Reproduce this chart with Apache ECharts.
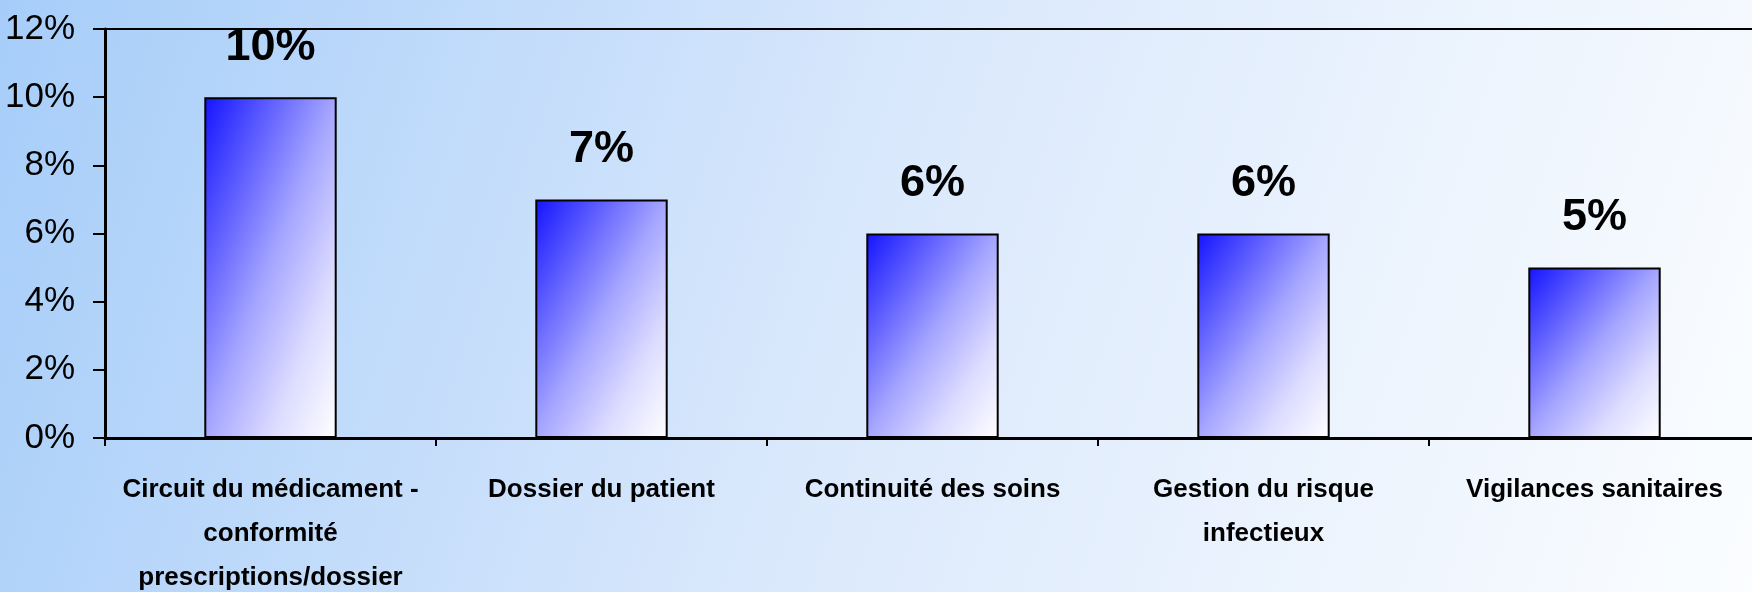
<!DOCTYPE html>
<html>
<head>
<meta charset="utf-8">
<script src="https://cdn.jsdelivr.net/npm/echarts@6/dist/echarts.min.js"></script>
<style>
  html, body { margin: 0; padding: 0; }
  #chart { width: 1752px; height: 592px; }
</style>
</head>
<body>
<div id="chart"></div>
<script>
const categories = [
  "Circuit du médicament -\nconformité\nprescriptions/dossier",
  "Dossier du patient",
  "Continuité des soins",
  "Gestion du risque\ninfectieux",
  "Vigilances sanitaires"
];
const values = [10, 7, 6, 6, 5];
const yTicks = { min: 0, max: 12, step: 2 };

const font = '"Liberation Sans", Arial, sans-serif';
const BAR_RATIO = 0.4;

// Excel-like diagonal fill: top-right and bottom-left corners share the same tint,
// whatever the bar's aspect ratio (w/h)
function barFill(r) {
  const k = 1 + r * r;
  return new echarts.graphic.LinearGradient(0, 0, 2 / k, (2 * r * r) / k, [
    { offset: 0, color: "#1414ff" },
    { offset: 0.5, color: "#a6a6ff" },
    { offset: 0.75, color: "#dcdcff" },
    { offset: 1, color: "#ffffff" }
  ]);
}

const chart = echarts.init(document.getElementById("chart"));
const option = {
  animation: false,
  backgroundColor: new echarts.graphic.LinearGradient(0, 0, 1, 1, [
    { offset: 0, color: "#a6cdf9" },
    { offset: 0.5, color: "#dbe9fc" },
    { offset: 1, color: "#fbfdff" }
  ]),
  grid: {
    left: 105,
    top: 29,
    bottom: 154,
    width: 1655,
    outerBoundsMode: "none",
    containLabel: false,
    show: true,
    borderColor: "#000",
    borderWidth: 2,
    backgroundColor: "transparent"
  },
  xAxis: {
    type: "category",
    data: categories,
    axisLine: { lineStyle: { color: "#000", width: 3 } },
    axisTick: { show: true, length: 8, lineStyle: { color: "#000", width: 2 } },
    axisLabel: {
      interval: 0,
      margin: 30,
      color: "#000",
      fontFamily: font,
      fontWeight: "bold",
      fontSize: 26,
      lineHeight: 44
    }
  },
  yAxis: {
    type: "value",
    min: yTicks.min,
    max: yTicks.max,
    interval: yTicks.step,
    splitLine: { show: false },
    axisLine: { show: true, lineStyle: { color: "#000", width: 3 } },
    axisTick: { show: true, length: 12, lineStyle: { color: "#000", width: 2 } },
    axisLabel: {
      formatter: "{value}%",
      margin: 30,
      color: "#000",
      fontFamily: font,
      fontSize: 35
    }
  },
  series: [
    {
      type: "bar",
      data: values,
      barWidth: BAR_RATIO * 100 + "%",
      itemStyle: {
        color: "#6a6aff",
        borderColor: "#000",
        borderWidth: 2
      },
      label: {
        show: true,
        position: "top",
        distance: 27,
        formatter: "{c}%",
        color: "#000",
        fontFamily: font,
        fontWeight: "bold",
        fontSize: 45
      }
    }
  ]
};
chart.setOption(option);

// bar size in pixels, measured through the axes, gives each bar its gradient
const p0 = chart.convertToPixel({ seriesIndex: 0 }, [0, 0]);
const p1 = chart.convertToPixel({ seriesIndex: 0 }, [1, 0]);
const barW = (p1[0] - p0[0]) * BAR_RATIO;
chart.setOption({
  series: [
    {
      data: values.map((v, i) => {
        const top = chart.convertToPixel({ seriesIndex: 0 }, [i, v]);
        const h = p0[1] - top[1];
        return { value: v, itemStyle: { color: barFill(barW / h) } };
      })
    }
  ]
});
</script>
</body>
</html>
